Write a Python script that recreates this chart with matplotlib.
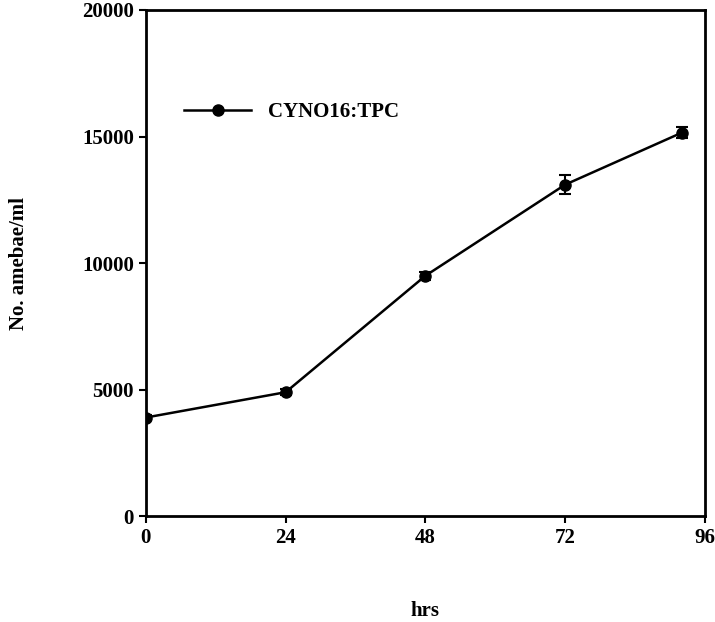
import numpy as np
import matplotlib
matplotlib.use('Agg')
import matplotlib.pyplot as plt

plt.rcParams['font.family'] = ['Liberation Serif', 'DejaVu Serif']
plt.rcParams['font.weight'] = 'bold'

# growth of CYNO16:TPC
hours = [0, 24, 48, 72, 92]
amebae = [3900, 4900, 9500, 13100, 15150]
err = [100, 120, 150, 380, 220]
xticks = [0, 24, 48, 72, 96]
yticks = [0, 5000, 10000, 15000, 20000]

fig = plt.figure(figsize=(7.15, 6.22), dpi=100)
ax = fig.add_axes([0.204, 0.170, 0.782, 0.814])

ax.errorbar(hours, amebae, yerr=err, color='black', fmt='none',
            capsize=4, elinewidth=1.5, capthick=1.5)
ax.plot(hours, amebae, color='black', lw=1.8, marker='o', markersize=8,
        label='CYNO16:TPC')

ax.set_xlim(0, 96)
ax.set_ylim(0, 20000)
ax.set_xticks(xticks)
ax.set_yticks(yticks)
ax.tick_params(direction='out', length=5, width=1.5, labelsize=15,
               top=False, right=False)
for s in ax.spines.values():
    s.set_linewidth(2)

ax.set_xlabel('hrs', fontsize=15, fontweight='bold', labelpad=38)
ax.set_ylabel('No. amebae/ml', fontsize=15, fontweight='bold', labelpad=38)

leg = ax.legend(loc='upper left', bbox_to_anchor=(0.035, 0.855), frameon=False,
                fontsize=15, handlelength=3.2, handletextpad=0.8)

fig.savefig('out.png', dpi=100)
